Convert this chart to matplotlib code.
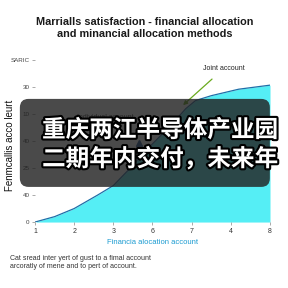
import numpy as np
import matplotlib.pyplot as plt
import matplotlib.patheffects as pe
from matplotlib.patches import FancyBboxPatch

# data
x_vals = [1, 1.5, 2, 2.6, 3, 3.4, 3.9, 4.45, 4.85, 5.1, 5.5, 6.2, 7]
y_vals = [0, 0.2, 0.5, 1.0, 1.35, 1.95, 2.75, 3.55, 4.2, 4.5, 4.68, 4.92, 5.07]
x_ticklabels = ['1', '2', '3', '6', '7', '4', '8']
y_ticklabels = ['0', '40', '25', '40', '10', '30', 'SARIC']

title = "Marrialls satisfaction - financial allocation\nand minancial allocation methods"
caption = ("Cat sread inter yert of gust to a fimal account\n"
           "arcoratly of mene and to pert of account.")
overlay_lines = "重庆两江半导体产业园\n二期年内交付，未来年"

plt.rcParams['font.family'] = ['Liberation Sans', 'DejaVu Sans']

fig = plt.figure(figsize=(2.88, 2.88), dpi=100)
ax = fig.add_axes([0.1215, 0.229, 0.816, 0.5625])

ax.fill_between(x_vals, y_vals, 0, color='#55eef5', lw=0)
ax.plot(x_vals, y_vals, color='#1f6fa8', lw=0.9)

ax.set_xlim(1, 7)
ax.set_ylim(0, 6)
ax.set_xticks(range(1, 8))
ax.set_xticklabels(x_ticklabels, fontsize=5, color='#333333')
ax.set_yticks(range(0, 7))
ax.set_yticklabels(y_ticklabels, fontsize=4.5, color='#444444')
ax.tick_params(axis='both', length=2.5, width=0.5, color='#888888', pad=1.5)
for s in ax.spines.values():
    s.set_visible(False)

ax.set_xlabel("Financia alocation account", fontsize=5.5, color='#1b9bd1', labelpad=3)
ax.set_ylabel("Fenmcallis acco leurt", fontsize=7, color='#111111')
ax.yaxis.set_label_coords(-0.085, 0.475)

# annotations
ax.text(2.79, 3.89, "Individual account", fontsize=5, color='#333333', ha='center', va='center')
ax.plot([3.66], [2.93], marker='^', color='#1f4f8a', ms=4)
ax.annotate("Joint account", xy=(4.78, 4.33), xytext=(5.83, 5.7),
            fontsize=5, color='#222222', ha='center', va='center',
            arrowprops=dict(arrowstyle='-|>', color='#6aaa1e', lw=0.9,
                            shrinkA=5, shrinkB=0, mutation_scale=6))

fig.text(0.503, 0.903, title, fontsize=7.8, fontweight='bold', ha='center', va='center',
         color='#1a1a1a', linespacing=1.15)
fig.text(0.035, 0.088, caption, fontsize=5, color='#333333', ha='left', va='center',
         linespacing=1.25)

# dark overlay banner
box = FancyBboxPatch((0.069, 0.351), 0.868, 0.3056, boxstyle='round,pad=0,rounding_size=0.03',
                     transform=fig.transFigure, facecolor='#222222', alpha=0.82, edgecolor='none')
fig.add_artist(box)
fig.text(0.146, 0.498, overlay_lines, fontsize=17, fontweight='bold', color='white',
         family=['Noto Sans CJK SC', 'DejaVu Sans'], ha='left', va='center', linespacing=1.27,
         path_effects=[pe.withStroke(linewidth=3, foreground='black')])

fig.savefig('out.png', dpi=100)
